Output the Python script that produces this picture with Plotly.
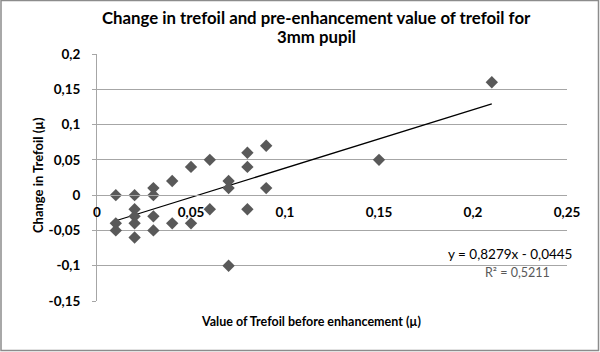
import plotly.graph_objects as go

# Data
trefoil_before = [0.01, 0.01, 0.01, 0.02, 0.02, 0.02, 0.02, 0.02, 0.03, 0.03, 0.03, 0.03,
                  0.04, 0.04, 0.05, 0.05, 0.06, 0.06, 0.07, 0.07, 0.07, 0.08, 0.08, 0.08,
                  0.09, 0.09, 0.15, 0.21]
trefoil_change = [0.00, -0.04, -0.05, 0.00, -0.02, -0.03, -0.04, -0.06, 0.01, 0.00, -0.03, -0.05,
                  0.02, -0.04, 0.04, -0.04, 0.05, -0.02, 0.02, 0.01, -0.10, 0.06, 0.04, -0.02,
                  0.07, 0.01, 0.05, 0.16]

# Linear trendline shown on the chart
slope = 0.8279
intercept = -0.0445
r_squared = 0.5211

x_tickvals = [0, 0.05, 0.1, 0.15, 0.2, 0.25]
x_ticktext = ["0", "0,05", "0,1", "0,15", "0,2", "0,25"]
y_tickvals = [-0.15, -0.1, -0.05, 0, 0.05, 0.1, 0.15, 0.2]
y_ticktext = ["-0,15", "-0,1", "-0,05", "0", "0,05", "0,1", "0,15", "0,2"]

title_lines = ["Change in trefoil and pre-enhancement value of trefoil for", "3mm pupil"]
x_title = "Value of Trefoil before enhancement (µ)"
y_title = "Change in Trefoil (µ)"

FONT = "Lato"
GRID = "#a6a6a6"

x_min, x_max = min(trefoil_before), max(trefoil_before)
trend_x = [x_min, x_max]
trend_y = [slope * v + intercept for v in trend_x]

fig = go.Figure()
fig.add_trace(go.Scatter(
    x=trend_x, y=trend_y, mode="lines",
    line=dict(color="#000000", width=1.2),
    hoverinfo="skip", showlegend=False,
))
fig.add_trace(go.Scatter(
    x=trefoil_before, y=trefoil_change, mode="markers",
    marker=dict(symbol="diamond", size=9.5, color="#595959", line=dict(width=0)),
    showlegend=False,
))

# plot area: left 97, right 567, top 54, bottom 301
L, R, T, B = 97, 567, 54, 301
W, H = R - L, B - T

def px(xp):
    return (xp - L) / W

def py(yp):
    return (B - yp) / H

fig.update_layout(
    width=600, height=352,
    margin=dict(l=L, r=600 - R, t=T, b=352 - B, pad=0),
    paper_bgcolor="white", plot_bgcolor="white",
    font=dict(family=FONT, color="#000000"),
    xaxis=dict(
        range=[0, 0.25], tickvals=x_tickvals, ticktext=x_ticktext,
        showgrid=False, zeroline=False,
        showline=True, linecolor=GRID, linewidth=1,
        anchor="free", position=0.15 / 0.35,
        ticks="", tickfont=dict(family=FONT, size=13.5, color="#000000", weight="bold"),
        ticklabelstandoff=5,
    ),
    yaxis=dict(
        range=[-0.15, 0.2], tickvals=y_tickvals, ticktext=y_ticktext,
        showgrid=True, gridcolor=GRID, gridwidth=1,
        zeroline=False, showline=True, linecolor=GRID, linewidth=1,
        ticks="outside", ticklen=4, tickcolor=GRID,
        tickfont=dict(family=FONT, size=13.5, color="#000000", weight="bold"),
        ticklabelstandoff=9,
    ),
    annotations=[
        dict(text=title_lines[0], x=px(316), y=py(17), xref="paper", yref="paper",
             showarrow=False, xanchor="center", yanchor="middle",
             font=dict(family=FONT, size=16.8, color="#000000", weight="bold")),
        dict(text=title_lines[1], x=px(316), y=py(37), xref="paper", yref="paper",
             showarrow=False, xanchor="center", yanchor="middle",
             font=dict(family=FONT, size=16.8, color="#000000", weight="bold")),
        dict(text=x_title, x=px(311), y=py(321), xref="paper", yref="paper",
             showarrow=False, xanchor="center", yanchor="middle",
             font=dict(family=FONT, size=12.5, color="#000000", weight="bold")),
        dict(text=y_title, x=px(38), y=py(175), xref="paper", yref="paper",
             showarrow=False, xanchor="center", yanchor="middle", textangle=-90,
             font=dict(family=FONT, size=13, color="#000000", weight="bold")),
        dict(text="y = " + f"{slope:.4f}".replace(".", ",") + "x - " + f"{abs(intercept):.4f}".replace(".", ","),
             x=px(574), y=py(254), xref="paper", yref="paper",
             showarrow=False, xanchor="right", yanchor="middle",
             font=dict(family=FONT, size=13.5, color="#000000")),
        dict(text="R² = " + f"{r_squared:.4f}".replace(".", ","),
             x=px(552), y=py(272), xref="paper", yref="paper",
             showarrow=False, xanchor="right", yanchor="middle",
             font=dict(family=FONT, size=12.5, color="#595959")),
    ],
    shapes=[
        dict(type="rect", xref="paper", yref="paper",
             x0=px(1), x1=px(598.5), y0=py(350.5), y1=py(0.5),
             line=dict(color="#8c8c8c", width=1.5), fillcolor="rgba(0,0,0,0)", layer="below"),
    ],
)

fig.write_html("out.html", config={"displayModeBar": False},
               post_script="document.body.style.margin='0';")
